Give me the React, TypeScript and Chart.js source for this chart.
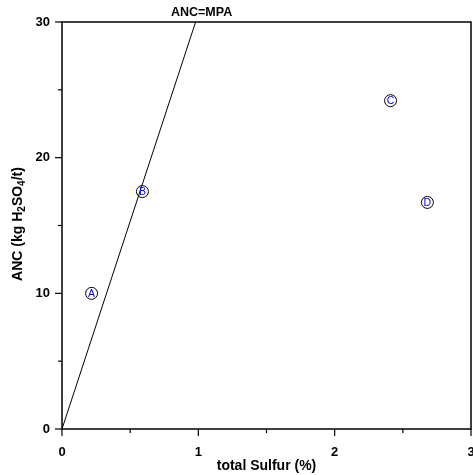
import React, { useEffect, useRef } from "react";
import { Chart, registerables } from "chart.js";

Chart.register(...registerables);

// Sample points
const sampleLabels = ["A", "B", "C", "D"];
const sulfurValues = [0.217, 0.59, 2.41, 2.68];
const ancValues = [10, 17.5, 24.2, 16.7];

// ANC = MPA reference line
const lineSulfur = [0, 0.98];
const lineAnc = [0, 30];
const lineLabel = "ANC=MPA";

const xTitle = "total Sulfur (%)";
const X_MIN = 0, X_MAX = 3, X_MAJOR = 1, X_MINOR = 0.5;
const Y_MIN = 0, Y_MAX = 30, Y_MAJOR = 10, Y_MINOR = 5;

const FONT = "'Liberation Sans', Arial, sans-serif";

const framePlugin = {
  id: "frame",
  afterDraw(chart: any) {
    const { ctx, chartArea: a, scales } = chart;
    const xs = scales.x, ys = scales.y;
    ctx.save();
    ctx.strokeStyle = "#000";
    ctx.lineWidth = 1.5;
    ctx.strokeRect(a.left, a.top, a.right - a.left, a.bottom - a.top);
    ctx.lineWidth = 1.2;
    for (let v = X_MIN; v <= X_MAX + 1e-9; v += X_MINOR) {
      const px = xs.getPixelForValue(v);
      const major = Math.abs(v / X_MAJOR - Math.round(v / X_MAJOR)) < 1e-6;
      ctx.beginPath();
      ctx.moveTo(px, a.bottom);
      ctx.lineTo(px, a.bottom + (major ? 7 : 4));
      ctx.stroke();
    }
    for (let v = Y_MIN; v <= Y_MAX + 1e-9; v += Y_MINOR) {
      const py = ys.getPixelForValue(v);
      const major = Math.abs(v / Y_MAJOR - Math.round(v / Y_MAJOR)) < 1e-6;
      ctx.beginPath();
      ctx.moveTo(a.left, py);
      ctx.lineTo(a.left - (major ? 7 : 4), py);
      ctx.stroke();
    }
    const lx = xs.getPixelForValue(lineSulfur[1]);
    ctx.fillStyle = "#000";
    ctx.font = `bold 12.5px ${FONT}`;
    ctx.textAlign = "center";
    ctx.textBaseline = "middle";
    ctx.fillText(lineLabel, lx + 6, a.top - 9.5);
    ctx.fillStyle = "#0000ff";
    ctx.font = `10.5px ${FONT}`;
    sampleLabels.forEach((lab, i) => {
      const px = xs.getPixelForValue(sulfurValues[i]);
      const py = ys.getPixelForValue(ancValues[i]);
      ctx.fillText(lab, px, py + 0.5);
    });
    ctx.fillStyle = "#000";
    const parts: [string, boolean][] = [
      ["ANC (kg H", false],
      ["2", true],
      ["SO", false],
      ["4", true],
      ["/t)", false],
    ];
    const big = `bold 14px ${FONT}`;
    const small = `bold 10px ${FONT}`;
    let total = 0;
    parts.forEach(([t, s]) => {
      ctx.font = s ? small : big;
      total += ctx.measureText(t).width;
    });
    ctx.translate(18, (a.top + a.bottom) / 2 - 1.5);
    ctx.rotate(-Math.PI / 2);
    ctx.textAlign = "left";
    ctx.textBaseline = "middle";
    let x = -total / 2;
    parts.forEach(([t, s]) => {
      ctx.font = s ? small : big;
      ctx.fillText(t, x, s ? 4 : 0);
      x += ctx.measureText(t).width;
    });
    ctx.restore();
  },
};

export default function App() {
  const ref = useRef<HTMLCanvasElement>(null);
  useEffect(() => {
    if (!ref.current) return;
    const chart = new Chart(ref.current, {
      type: "scatter",
      data: {
        datasets: [
          {
            label: lineLabel,
            data: lineSulfur.map((s, i) => ({ x: s, y: lineAnc[i] })),
            showLine: true,
            borderColor: "#000",
            borderWidth: 1,
            pointRadius: 0,
            fill: false,
          },
          {
            label: "samples",
            data: sulfurValues.map((s, i) => ({ x: s, y: ancValues[i] })),
            pointRadius: 6,
            pointBorderColor: "#000",
            pointBorderWidth: 1,
            pointBackgroundColor: "rgba(255,255,255,0)",
            showLine: false,
          },
        ],
      },
      options: {
        responsive: false,
        animation: false,
        layout: { autoPadding: false, padding: { top: 22, right: 2, left: 0, bottom: 0 } },
        plugins: { legend: { display: false }, tooltip: { enabled: false } },
        scales: {
          x: {
            type: "linear",
            min: X_MIN,
            max: X_MAX,
            afterFit: (s: any) => {
              s.height = 46;
              s.paddingLeft = 0;
              s.paddingRight = 0;
            },
            grid: { display: true, drawOnChartArea: false, drawTicks: false, color: "rgba(0,0,0,0)" },
            border: { display: false },
            ticks: {
              stepSize: X_MAJOR,
              padding: 16,
              color: "#000",
              font: { family: FONT, size: 13, weight: "bold" },
              maxRotation: 0,
            },
            title: {
              display: true,
              text: xTitle,
              color: "#000",
              font: { family: FONT, size: 14, weight: "bold" },
              padding: { top: 0, bottom: 0 },
            },
          },
          y: {
            type: "linear",
            min: Y_MIN,
            max: Y_MAX,
            afterFit: (s: any) => {
              s.width = 62;
              s.paddingTop = 0;
              s.paddingBottom = 0;
            },
            grid: { display: true, drawOnChartArea: false, drawTicks: false, color: "rgba(0,0,0,0)" },
            border: { display: false },
            ticks: {
              stepSize: Y_MAJOR,
              padding: 12,
              color: "#000",
              font: { family: FONT, size: 13, weight: "bold" },
            },
          },
        },
      },
      plugins: [framePlugin],
    });
    return () => chart.destroy();
  }, []);
  return (
    <div style={{ position: "fixed", left: 0, top: 0, width: 473, height: 475, background: "#fff" }}>
      <canvas ref={ref} width={473} height={475} />
    </div>
  );
}
